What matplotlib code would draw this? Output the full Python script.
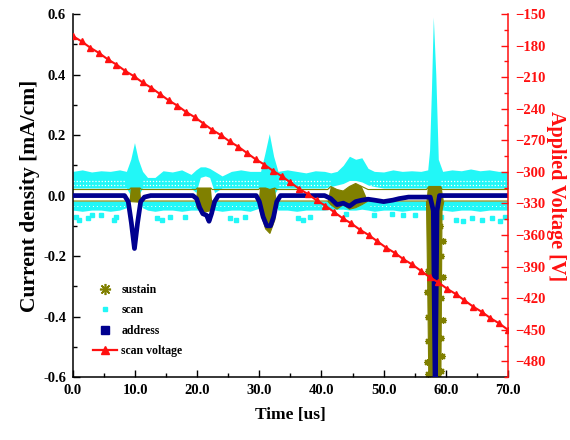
import numpy as np
import matplotlib
matplotlib.use("Agg")
import matplotlib.pyplot as plt
from matplotlib.lines import Line2D
from matplotlib.ticker import MultipleLocator, FormatStrFormatter

# ---- address electrode current density [mA/cm] vs time [us] ----
address_t = [0.0, 8.3, 8.9, 9.4, 9.9, 10.4, 10.9, 11.5, 12.5,
             19.3, 19.9, 20.4, 20.9, 21.5, 21.9, 22.3, 22.8, 23.4,
             29.5, 30.0, 30.6, 31.2, 31.8, 32.3, 32.8, 33.4,
             40.5, 41.5, 42.5, 43.5, 44.5, 45.5, 46.5, 47.5, 48.5, 50.0,
             51.5, 52.5, 54.0, 57.5, 58.0, 58.3, 58.6, 59.0, 70.0]
address_j = [0.0, 0.0, -0.02, -0.09, -0.175, -0.09, -0.02, -0.005, 0.0,
             0.0, -0.01, -0.04, -0.06, -0.065, -0.085, -0.06, -0.02, 0.0,
             0.0, -0.02, -0.07, -0.10, -0.10, -0.07, -0.02, 0.0,
             0.0, -0.01, -0.03, -0.025, -0.035, -0.02, -0.015, -0.012, -0.015, -0.02,
             -0.015, -0.01, -0.005, -0.005, -0.05, -0.65, -0.05, 0.0, 0.0]

# ---- sustain electrode current: envelope of the noisy trace ----
sustain_t = [0.0, 9.1, 9.3, 10.8, 11.0, 19.8, 20.0, 21.0, 22.2, 22.4,
             29.9, 30.1, 31.0, 31.7, 32.5, 32.8, 41.0, 41.5, 42.5, 43.5,
             44.5, 45.5, 46.5, 47.5, 56.9, 57.1, 57.3, 59.2, 59.4, 59.7, 70.0]
sustain_hi = [0.02, 0.02, 0.025, 0.025, 0.02, 0.02, 0.025, 0.025, 0.025, 0.02,
              0.02, 0.025, 0.025, 0.02, 0.025, 0.02, 0.02, 0.03, 0.02, 0.015,
              0.03, 0.04, 0.03, 0.02, 0.02, 0.025, 0.03, 0.03, 0.02, 0.02, 0.02]
sustain_lo = [-0.018, -0.018, -0.02, -0.022, -0.018, -0.018, -0.04, -0.055, -0.05, -0.018,
              -0.018, -0.05, -0.11, -0.125, -0.08, -0.018, -0.018, -0.03, -0.045, -0.03,
              -0.045, -0.04, -0.03, -0.018, -0.018, -0.3, -0.65, -0.65, -0.05, -0.018, -0.018]
sustain_star_t = [59.3, 59.5, 59.2, 59.5, 59.3, 59.4, 59.2, 59.5, 57.2, 57.0, 57.1, 57.2, 57.0, 57.1, 59.1]
sustain_star_j = [-0.20, -0.27, -0.34, -0.41, -0.47, -0.53, -0.58, -0.15, -0.25, -0.32, -0.40, -0.48, -0.55, -0.59, -0.10]

# ---- scan electrode current: positive / negative swing envelopes ----
scan_t = [0.0, 1.5, 3.0, 4.5, 6.0, 7.5, 8.6, 9.3, 9.9, 10.5, 11.2, 12.0, 13.2, 14.5,
          16.0, 17.5, 19.0, 19.8, 20.5, 21.3, 22.0, 22.8, 24.0, 25.5, 27.0, 28.5,
          30.2, 30.9, 31.6, 32.3, 33.0, 34.5, 36.0, 37.5, 39.0, 40.5, 41.5, 42.5,
          43.5, 44.5, 45.5, 46.5, 47.5, 48.5, 50.0, 51.5, 53.0, 54.5, 56.0, 57.1,
          57.4, 57.7, 58.0, 58.4, 58.8, 59.5, 61.0, 62.5, 64.0, 65.5, 67.0, 68.5, 70.0]
scan_top = [0.080, 0.085, 0.078, 0.082, 0.080, 0.085, 0.080, 0.120, 0.175, 0.120, 0.080, 0.060, 0.060, 0.082,
            0.078, 0.085, 0.070, 0.085, 0.095, 0.095, 0.090, 0.080, 0.065, 0.080, 0.085, 0.080,
            0.080, 0.140, 0.205, 0.130, 0.080, 0.085, 0.080, 0.075, 0.082, 0.080, 0.075, 0.080,
            0.100, 0.130, 0.120, 0.125, 0.090, 0.080, 0.078, 0.085, 0.080, 0.082, 0.080, 0.085,
            0.150, 0.350, 0.590, 0.400, 0.120, 0.080, 0.085, 0.082, 0.088, 0.082, 0.085, 0.080, 0.080]
scan_inner = [0.025, 0.025, 0.025, 0.025, 0.025, 0.025, 0.025, 0.0, 0.0, 0.0, 0.025, 0.025, 0.025, 0.025,
              0.025, 0.025, 0.025, 0.010, 0.060, 0.065, 0.060, 0.010, 0.025, 0.025, 0.025, 0.025,
              0.025, 0.0, 0.0, 0.0, 0.025, 0.025, 0.025, 0.025, 0.025, 0.025, 0.030, 0.035,
              0.040, 0.050, 0.050, 0.045, 0.035, 0.030, 0.025, 0.025, 0.025, 0.025, 0.025, 0.025,
              0.0, 0.0, 0.0, 0.0, 0.020, 0.025, 0.025, 0.025, 0.025, 0.025, 0.025, 0.025, 0.025]
scan_neg_top = [-0.018] * 7 + [-0.010] * 3 + [-0.018] * 17 + [-0.010] * 3 + [-0.018] * 33
scan_neg_bot = [-0.048, -0.052, -0.048, -0.048, -0.052, -0.048, -0.040, -0.010, -0.010, -0.010, -0.040, -0.048, -0.052, -0.048,
                -0.048, -0.052, -0.048, -0.048, -0.048, -0.048, -0.048, -0.048, -0.052, -0.048, -0.048, -0.052,
                -0.040, -0.010, -0.010, -0.010, -0.048, -0.048, -0.052, -0.048, -0.048, -0.048, -0.045, -0.045,
                -0.045, -0.048, -0.048, -0.045, -0.048, -0.052, -0.048, -0.048, -0.052, -0.048, -0.048, -0.048,
                -0.048, -0.048, -0.048, -0.048, -0.052, -0.048, -0.052, -0.048, -0.048, -0.052, -0.048, -0.048, -0.048]
# isolated negative excursions of the scan trace
scan_dot_t = [0.5, 1.0, 2.4, 3.0, 4.5, 6.6, 7.0, 13.5, 14.4, 15.6, 18.0, 25.3, 26.2, 27.7, 36.3, 37.0,
              38.2, 44.0, 48.5, 51.4, 53.1, 55.0, 59.3, 61.6, 62.8, 64.2, 65.9, 67.5, 68.7, 69.5]
scan_dot_j = [-0.07, -0.08, -0.075, -0.065, -0.065, -0.08, -0.07, -0.075, -0.08, -0.07, -0.07, -0.075, -0.08, -0.07, -0.075, -0.08,
              -0.07, -0.06, -0.065, -0.06, -0.065, -0.065, -0.07, -0.08, -0.085, -0.075, -0.08, -0.075, -0.085, -0.07]
# quiet intervals of the scan trace (between discharge peaks)
scan_quiet = [(0.0, 8.6), (11.3, 19.6), (23.0, 30.0), (33.2, 41.3), (47.8, 57.0), (59.2, 70.0)]

# ---- scan voltage ramp [V] ----
voltage_t = [0.0, 1.4, 2.8, 4.2, 5.6, 7.0, 8.4, 9.8, 11.2, 12.6, 14.0, 15.4, 16.8, 18.2, 19.6,
             21.0, 22.4, 23.8, 25.2, 26.6, 28.0, 29.4, 30.8, 32.2, 33.6, 35.0, 36.4, 37.8,
             39.2, 40.6, 42.0, 43.4, 44.8, 46.2, 47.6, 49.0, 50.4, 51.8, 53.2, 54.6, 56.0,
             57.4, 58.8, 60.2, 61.6, 63.0, 64.4, 65.8, 67.2, 68.6, 70.0]
voltage_v = [-171, -176, -182, -187, -193, -198, -204, -209, -215, -220, -226, -232, -237, -243, -248,
             -254, -260, -265, -271, -276, -282, -288, -293, -299, -304, -310, -316, -321,
             -327, -332, -338, -344, -349, -355, -360, -366, -372, -377, -383, -388, -394,
             -400, -405, -411, -416, -422, -428, -433, -439, -444, -450]

CYAN = "#22F7F7"
NAVY = "#00008F"
OLIVE = "#808000"
RED = "#FF1010"

plt.rcParams["font.family"] = ["Liberation Serif", "DejaVu Serif"]
plt.rcParams["font.weight"] = "bold"

fig = plt.figure(figsize=(5.7, 4.4), dpi=100)
ax = fig.add_axes([0.128, 0.143, 0.763, 0.825])

# scan trace
ax.fill_between(scan_t, scan_inner, scan_top, color=CYAN, lw=0, zorder=1)
ax.fill_between(scan_t, scan_neg_bot, scan_neg_top, color=CYAN, lw=0, zorder=1)
for t0, t1 in scan_quiet:
    for level in (0.034, 0.048):
        ax.plot([t0, t1], [level, level], color="white", lw=0.9, ls=(0, (1, 1.5)), zorder=1.5)
    ax.plot([t0, t1], [-0.035, -0.035], color="white", lw=0.7, ls=(0, (1, 3)), zorder=1.5)
ax.plot(scan_dot_t, scan_dot_j, ls="none", marker="s", ms=3.2, color=CYAN, mec=CYAN, zorder=1.6)

# sustain trace
ax.plot(sustain_t, sustain_hi, color=OLIVE, lw=0.8, zorder=2)
ax.plot(sustain_t, sustain_lo, color=OLIVE, lw=0.8, zorder=2)
hi = np.array(sustain_hi)
lo = np.array(sustain_lo)
ax.fill_between(sustain_t, lo, hi, where=(hi - lo) > 0.039, interpolate=True,
                color=OLIVE, lw=0, zorder=2)
ax.plot(sustain_star_t, sustain_star_j, ls="none", marker=(8, 2, 0), ms=5,
        mew=0.9, color=OLIVE, zorder=2.1)

# address trace
ax.plot(address_t, address_j, color=NAVY, lw=3.4, solid_joinstyle="round", zorder=3)

ax.set_xlim(0, 70)
ax.set_ylim(-0.6, 0.6)
ax.xaxis.set_major_locator(MultipleLocator(10))
ax.xaxis.set_minor_locator(MultipleLocator(5))
ax.yaxis.set_major_locator(MultipleLocator(0.2))
ax.yaxis.set_minor_locator(MultipleLocator(0.1))
ax.xaxis.set_major_formatter(FormatStrFormatter("%.1f"))
ax.yaxis.set_major_formatter(FormatStrFormatter("%.1f"))
ax.tick_params(which="both", direction="in", top=False, right=False,
               labelsize=10.5, width=1.0, pad=5)
ax.tick_params(which="major", length=5)
ax.tick_params(which="minor", length=3)
ax.spines["top"].set_visible(False)
ax.spines["right"].set_visible(False)
for s in ("left", "bottom"):
    ax.spines[s].set_linewidth(1.1)
ax.set_xlabel("Time [us]", fontsize=12.5, fontweight="bold", labelpad=7)
ax.set_ylabel("Current density [mA/cm]", fontsize=15.5, fontweight="bold", labelpad=2)

# voltage on the secondary axis
ax2 = ax.twinx()
ax2.plot(voltage_t, voltage_v, color=RED, lw=1.5, marker="^", ms=4.6,
         mec=RED, mfc=RED, zorder=4)
ax2.set_ylim(-495, -150)
ax2.yaxis.set_major_locator(MultipleLocator(30))
ax2.yaxis.set_minor_locator(MultipleLocator(15))
ax2.tick_params(axis="y", which="both", direction="in", colors=RED,
                labelsize=10.5, width=1.0, pad=5)
ax2.tick_params(axis="y", which="major", length=5)
ax2.tick_params(axis="y", which="minor", length=3)
for lab in ax2.get_yticklabels():
    lab.set_fontweight("bold")
ax2.spines["top"].set_visible(False)
ax2.spines["left"].set_visible(False)
ax2.spines["bottom"].set_visible(False)
ax2.spines["right"].set_color(RED)
ax2.spines["right"].set_linewidth(1.1)
ax2.set_ylabel("Applied Voltage [V]", color=RED, fontsize=14.5, fontweight="bold",
               rotation=270, labelpad=15)

handles = [
    Line2D([], [], ls="none", marker=(8, 2, 0), ms=8, mew=1.2, color=OLIVE),
    Line2D([], [], ls="none", marker="s", ms=3.5, color=CYAN),
    Line2D([], [], ls="none", marker="s", ms=5.5, color=NAVY),
    Line2D([], [], color=RED, lw=1.6, marker="^", ms=6, mec=RED),
]
labels = ["sustain", "scan", "address", "scan voltage"]
leg = ax2.legend(handles, labels, loc="lower left", bbox_to_anchor=(0.022, 0.025),
                 frameon=False, handlelength=2.0, handletextpad=0.4,
                 labelspacing=0.72, prop={"family": "Liberation Serif",
                                          "weight": "bold", "size": 8.5})

fig.savefig("out.png", dpi=100)
